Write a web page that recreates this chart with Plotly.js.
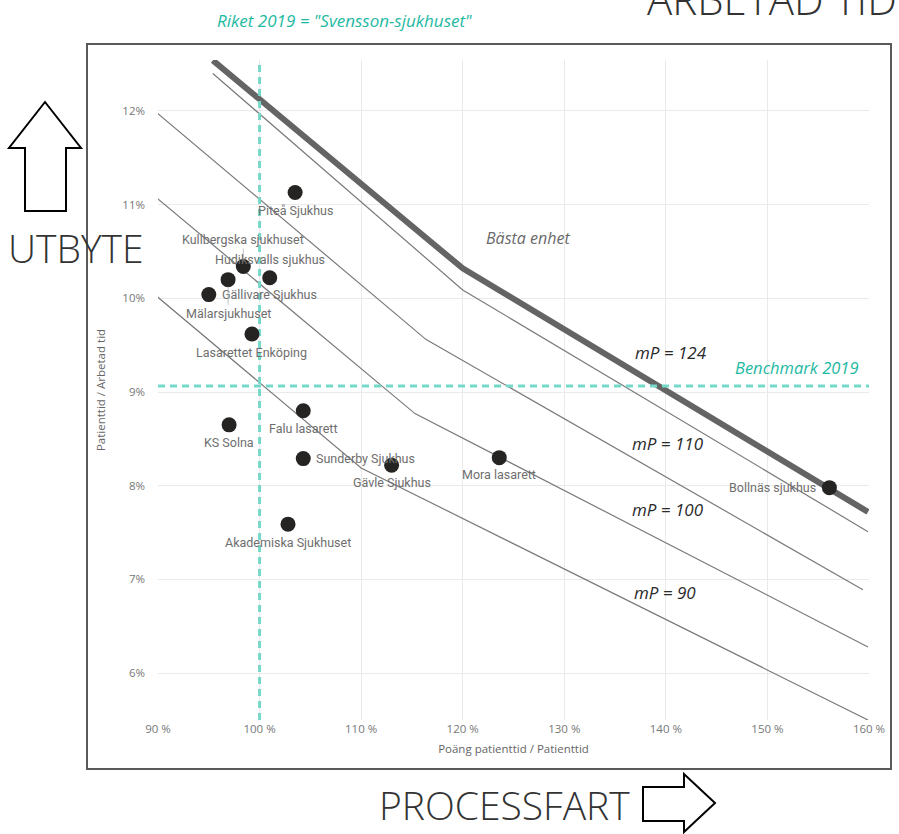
<!DOCTYPE html>
<html>
<head>
<meta charset="utf-8">
<script src="https://cdn.plot.ly/plotly-3.0.1.min.js"></script>
<style>html,body{margin:0;padding:0;background:#fff;}#chart{width:899px;height:834px;}</style>
</head>
<body>
<div id="chart"></div>
<script>
// ---------- DATA ----------
const hospitals = ["Piteå Sjukhus","Kullbergska sjukhuset","Hudiksvalls sjukhus","Gällivare Sjukhus","Mälarsjukhuset","Lasarettet Enköping","KS Solna","Falu lasarett","Sunderby Sjukhus","Gävle Sjukhus","Akademiska Sjukhuset","Mora lasarett","Bollnäs sjukhus"];
const processfart = [103.5, 98.4, 101.0, 95.0, 96.9, 99.25, 97.0, 104.3, 104.3, 113.0, 102.8, 123.6, 156.1];
const utbyte      = [11.13, 10.34, 10.22, 10.04, 10.20, 9.62, 8.65, 8.80, 8.29, 8.22, 7.59, 8.30, 7.98];

const frontierX = [95.4, 120.0, 159.9];
const frontierY = [12.54, 10.32, 7.72];
const mp124X = [95.4, 120.0, 159.9];
const mp124Y = [12.40, 10.09, 7.51];
const mp110X = [89.9, 116.4, 159.4];
const mp110Y = [11.98, 9.56, 6.89];
const mp100X = [89.9, 115.3, 159.9];
const mp100Y = [11.07, 8.77, 6.28];
const mp90X = [89.9, 110.0, 159.9];
const mp90Y = [10.02, 8.19, 5.50];

const riketX = 100;        // Riket 2019 processfart
const benchmarkY = 9.065;  // Benchmark 2019 utbyte

const xTickVals = [90, 100, 110, 120, 130, 140, 150, 160];
const yTickVals = [6, 7, 8, 9, 10, 11, 12];

// ---------- LAYOUT HELPERS ----------
const PL = 158, PT = 60, PW = 711, PH = 660;
const xRange = [90, 160], yRange = [5.5, 12.544];
function px(x){ return (x - PL) / PW; }
function py(y){ return (PT + PH - y) / PH; }
function path(pts){ return 'M' + pts.map(p => px(p[0]) + ',' + py(p[1])).join(' L') + ' Z'; }

// label placement: [anchor, dx, dy(px, down positive), leader]
const labelPlace = {
  "Piteå Sjukhus": ["center", 0, 18],
  "Kullbergska sjukhuset": ["center", 0, -27, true],
  "Hudiksvalls sjukhus": ["center", 0, -18],
  "Gällivare Sjukhus": ["left", 11, 0],
  "Mälarsjukhuset": ["center", 0, 34, true],
  "Lasarettet Enköping": ["center", 0, 18.5],
  "KS Solna": ["center", 0, 18],
  "Falu lasarett": ["center", 0, 18],
  "Sunderby Sjukhus": ["left", 11, 0],
  "Gävle Sjukhus": ["center", 0, 17],
  "Akademiska Sjukhuset": ["center", 0, 18.5],
  "Mora lasarett": ["center", 0, 17],
  "Bollnäs sjukhus": ["right", -11, 0]
};

const teal = '#74d9c9';
const tealText = '#1db9a3';
const lineGray = '#7a7a7a';
const labelFont = {family: 'Roboto, sans-serif', size: 12.5, color: '#6e6e6e'};

const traces = [];
function addLine(x, y, w, c){
  traces.push({x: x, y: y, type: 'scatter', mode: 'lines', line: {color: c, width: w}, hoverinfo: 'skip', showlegend: false});
}
addLine(mp90X, mp90Y, 1.2, lineGray);
addLine(mp100X, mp100Y, 1.2, lineGray);
addLine(mp110X, mp110Y, 1.2, lineGray);
addLine(mp124X, mp124Y, 1.2, lineGray);
addLine(frontierX, frontierY, 6, '#646464');
// reference dashed lines
traces.push({x: [riketX, riketX], y: yRange, type: 'scatter', mode: 'lines', line: {color: teal, width: 3, dash: '7px,5px'}, hoverinfo: 'skip', showlegend: false});
traces.push({x: xRange, y: [benchmarkY, benchmarkY], type: 'scatter', mode: 'lines', line: {color: teal, width: 3, dash: '7px,5px'}, hoverinfo: 'skip', showlegend: false});
// points
traces.push({x: processfart, y: utbyte, text: hospitals, type: 'scatter', mode: 'markers',
  marker: {size: 15, color: '#252423'}, hoverinfo: 'text', showlegend: false});

const annotations = hospitals.map((name, i) => {
  const p = labelPlace[name];
  const a = {x: processfart[i], y: utbyte[i], xref: 'x', yref: 'y', text: name, font: labelFont,
    xanchor: p[0], yanchor: 'middle'};
  if (p[3]) {
    Object.assign(a, {showarrow: true, arrowhead: 0, arrowwidth: 0.8, arrowcolor: '#b5b5b5',
      ax: p[1], ay: p[2], standoff: 7, xanchor: 'center'});
  } else {
    Object.assign(a, {showarrow: false, xshift: p[1], yshift: -p[2]});
  }
  return a;
});

function pAnn(text, cx, cy, font, extra){
  return Object.assign({text: text, xref: 'paper', yref: 'paper', x: px(cx), y: py(cy),
    xanchor: 'center', yanchor: 'middle', showarrow: false, font: font}, extra || {});
}
const itFont = (size, color) => ({family: '"Open Sans", sans-serif', size: size, color: color, style: 'italic'});
const bigFont = {family: '"Open Sans", sans-serif', size: 39, color: '#333', weight: 300};

annotations.push(pAnn('Riket 2019 = "Svensson-sjukhuset"', 344, 20, itFont(17, tealText)));
annotations.push(pAnn('Benchmark 2019', 797, 367, itFont(16.5, tealText)));
annotations.push(pAnn('Bästa enhet', 528, 238, itFont(16, '#6a6a6a')));
annotations.push(pAnn('mP = 124', 671, 352, itFont(17, '#2a2a2a')));
annotations.push(pAnn('mP = 110', 668, 443, itFont(17, '#2a2a2a')));
annotations.push(pAnn('mP = 100', 668, 509, itFont(17, '#2a2a2a')));
annotations.push(pAnn('mP = 90', 665, 592, itFont(17, '#2a2a2a')));
annotations.push(pAnn('UTBYTE', 76, 247, bigFont));
annotations.push(pAnn('PROCESSFART', 504, 804, bigFont));
annotations.push(pAnn('ARBETAD TID', 645, -1, Object.assign({}, bigFont, {size: 42}), {xanchor: 'left'}));

const shapes = [
  {type: 'rect', xref: 'paper', yref: 'paper', x0: px(87), x1: px(891), y0: py(769), y1: py(44),
    line: {color: '#5a5a5a', width: 2}, fillcolor: 'rgba(0,0,0,0)', layer: 'below'},
  {type: 'path', xref: 'paper', yref: 'paper', line: {color: '#000', width: 2}, fillcolor: 'rgba(0,0,0,0)',
    path: path([[45,102],[81,148],[66,148],[66,211],[25,211],[25,148],[9,148]])},
  {type: 'path', xref: 'paper', yref: 'paper', line: {color: '#000', width: 2}, fillcolor: 'rgba(0,0,0,0)',
    path: path([[643,787],[684,787],[684,774],[715,803],[684,832],[684,821],[643,821]])}
];

const tickFont = {family: '"Open Sans", sans-serif', size: 11.5, color: '#777'};
const layout = {
  width: 899, height: 834,
  margin: {l: PL, r: 899 - PL - PW, t: PT, b: 834 - PT - PH},
  paper_bgcolor: '#fff', plot_bgcolor: '#fff',
  showlegend: false,
  xaxis: {range: xRange, tickvals: xTickVals, ticktext: xTickVals.map(v => v + ' %'),
    showgrid: true, gridcolor: '#eaeaea', gridwidth: 1, zeroline: false, showline: false, ticks: '',
    tickfont: tickFont,
    title: {text: 'Poäng patienttid / Patienttid', font: {family: '"Open Sans", sans-serif', size: 11.5, color: '#666'}, standoff: 10}},
  yaxis: {range: yRange, tickvals: yTickVals, ticktext: yTickVals.map(v => v + '%'),
    showgrid: true, gridcolor: '#eaeaea', gridwidth: 1, zeroline: false, showline: false, ticks: '',
    tickfont: tickFont, ticklabelstandoff: 12,
    title: {text: 'Patienttid / Arbetad tid', font: {family: '"Open Sans", sans-serif', size: 11.5, color: '#666'}, standoff: 14}},
  annotations: annotations,
  shapes: shapes
};

Plotly.newPlot('chart', traces, layout, {displayModeBar: false, staticPlot: true});
</script>
</body>
</html>
